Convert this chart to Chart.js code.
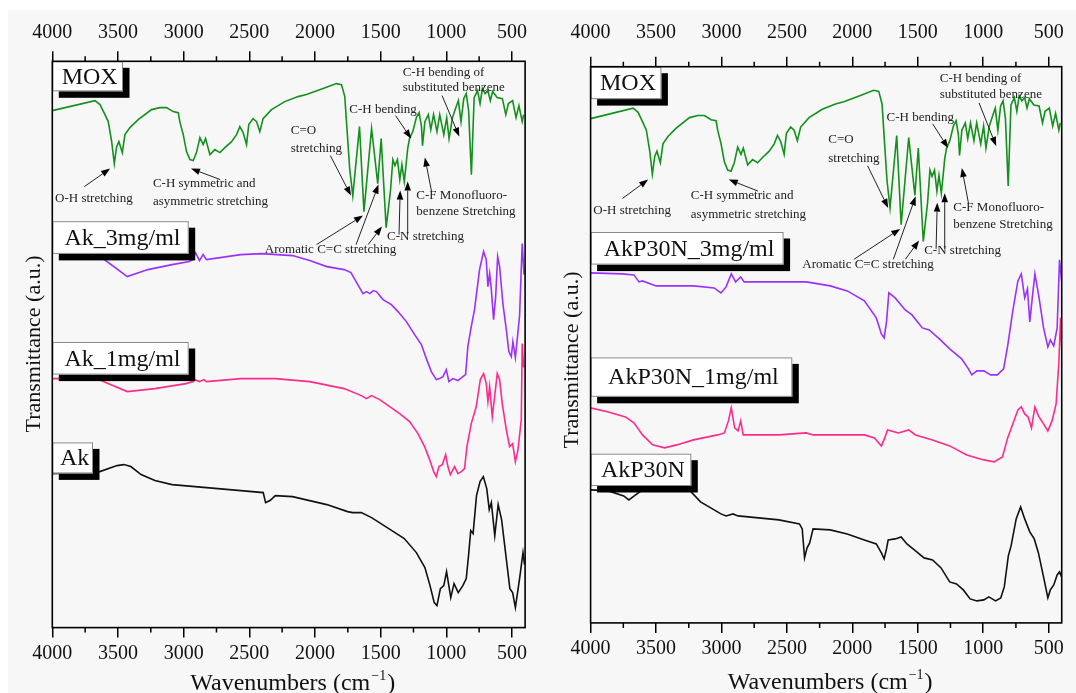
<!DOCTYPE html>
<html><head><meta charset="utf-8">
<script src="https://cdn.jsdelivr.net/npm/chart.js@4.4.1/dist/chart.umd.min.js"></script>
<style>
html,body{margin:0;padding:0;background:#fff;}
#wrap{position:relative;width:1076px;height:693px;overflow:hidden;}
#bg{position:absolute;left:8px;top:10px;right:0;bottom:0;background:#f7f7f7;}
#c1{position:absolute;left:0;top:0;}
#c2{position:absolute;left:540px;top:0;}
</style></head><body>
<div id="wrap"><div id="bg"></div><canvas id="c1" width="540" height="693"></canvas><canvas id="c2" width="536" height="693"></canvas></div>
<script>
// ---------- DATA (wavenumber cm-1, transmittance a.u. with vertical stacking offsets) ----------
const tickLabels = [4000, 3500, 3000, 2500, 2000, 1500, 1000, 500];
const leftLabels = ['MOX', 'Ak_3mg/ml', 'Ak_1mg/ml', 'Ak'];
const rightLabels = ['MOX', 'AkP30N_3mg/ml', 'AkP30N_1mg/ml', 'AkP30N'];

const moxSpectrum = [[4000,517],[3675,527],[3637,523],[3599,513],[3574,506],[3548,486],[3528,464],[3510,481],[3493,486],[3467,475],[3447,493],[3409,500],[3346,508],[3244,518],[3181,520],[3130,520],[3080,516],[3041,515],[3029,506],[3003,493],[2978,476],[2952,468],[2927,467],[2902,475],[2876,490],[2851,483],[2833,489],[2800,473],[2762,478],[2724,475],[2686,480],[2635,486],[2597,493],[2572,501],[2547,495],[2521,483],[2504,503],[2471,509],[2445,506],[2420,496],[2395,509],[2331,518],[2230,526],[2129,531],[2065,533],[1938,539],[1837,544],[1798,543],[1773,531],[1756,498],[1735,458],[1712,432],[1661,501],[1627,416],[1569,499],[1522,444],[1496,489],[1458,400],[1425,437],[1407,468],[1391,462],[1372,468],[1354,448],[1338,463],[1320,446],[1307,462],[1294,479],[1280,489],[1255,496],[1228,510],[1207,515],[1189,501],[1181,482],[1163,506],[1137,513],[1118,498],[1097,513],[1071,496],[1050,513],[1019,493],[997,510],[979,489],[953,510],[927,520],[908,527],[888,506],[867,529],[848,534],[830,517],[809,453],[788,530],[762,537],[743,524],[725,539],[705,534],[683,537],[665,527],[647,536],[613,530],[573,529],[547,513],[527,524],[495,527],[469,510],[447,522],[422,506],[411,513]];

const ak3Spectrum = [[4000,376],[3665,374],[3429,351],[3272,358],[3088,363],[2957,366],[2931,368],[2910,375],[2879,367],[2852,373],[2826,368],[2565,373],[2407,374],[2171,372],[2040,367],[1910,361],[1778,358],[1726,355],[1674,343],[1634,334],[1608,336],[1582,334],[1556,337],[1532,336],[1482,328],[1418,323],[1368,316],[1304,306],[1241,293],[1190,283],[1152,269],[1114,256],[1076,248],[1051,249],[1026,251],[1000,258],[980,246],[950,249],[912,247],[874,251],[853,253],[836,281],[810,301],[785,318],[747,358],[716,376],[696,368],[683,341],[670,354],[657,338],[640,308],[624,331],[609,371],[594,361],[569,324],[543,298],[524,276],[505,271],[493,286],[474,270],[442,312],[422,384],[408,353]];

const ak1Spectrum = [[4000,249],[3665,249],[3429,236],[3219,239],[2983,244],[2926,246],[2918,248],[2879,246],[2847,248],[2826,246],[2565,249],[2302,249],[2040,246],[1778,239],[1647,232],[1608,229],[1570,232],[1507,228],[1431,221],[1355,214],[1279,206],[1216,194],[1165,181],[1127,168],[1096,156],[1076,151],[1056,161],[1030,163],[1005,173],[988,161],[969,153],[937,161],[912,154],[886,156],[861,159],[843,181],[810,204],[772,221],[741,248],[716,254],[696,244],[683,226],[670,241],[650,211],[632,231],[612,254],[594,248],[574,224],[543,198],[518,181],[495,184],[474,166],[455,177],[429,208],[422,284],[411,260]];

const akSpectrum = [[4000,154],[3638,156],[3507,162],[3455,163],[3402,161],[3324,153],[3219,147],[3088,143],[2826,140],[2565,137],[2394,135],[2376,125],[2342,127],[2302,132],[2171,131],[1910,123],[1752,116],[1713,115],[1647,115],[1569,110],[1438,99],[1320,89],[1228,75],[1163,60],[1124,42],[1092,25],[1071,22],[1045,39],[1019,42],[998,56],[966,30],[941,44],[909,35],[874,42],[848,49],[830,73],[814,97],[796,94],[770,132],[743,146],[718,151],[692,139],[673,118],[657,125],[631,92],[605,123],[579,108],[547,73],[516,39],[495,35],[474,20],[442,49],[416,75],[404,63]];

const akp3Spectrum = [[4000,350],[3760,349],[3669,348],[3630,341],[3603,342],[3500,337],[3213,337],[3056,335],[3004,330],[2965,336],[2925,349],[2892,341],[2853,346],[2827,341],[2561,341],[2352,341],[2169,337],[2039,332],[1908,322],[1817,305],[1778,289],[1757,285],[1739,301],[1721,330],[1673,325],[1596,313],[1544,308],[1465,295],[1413,293],[1335,284],[1256,274],[1165,264],[1113,254],[1087,248],[1048,252],[995,252],[943,248],[892,248],[844,254],[813,277],[774,312],[735,342],[709,349],[683,325],[662,334],[644,301],[625,325],[605,349],[573,325],[539,295],[506,276],[487,283],[461,277],[435,295],[417,363],[401,342]];

const akp1Spectrum = [[4000,215],[3864,211],[3734,206],[3669,200],[3603,188],[3526,178],[3434,175],[3342,178],[3213,183],[3030,188],[2978,190],[2947,202],[2925,215],[2899,195],[2873,192],[2853,202],[2834,188],[2561,188],[2352,190],[2300,188],[2039,188],[1908,188],[1831,185],[1778,177],[1752,185],[1731,193],[1647,190],[1570,193],[1517,188],[1387,183],[1256,177],[1126,168],[995,163],[917,161],[853,166],[813,185],[774,199],[735,213],[709,216],[683,209],[657,206],[631,195],[605,216],[578,207],[539,199],[506,192],[474,202],[443,219],[422,260],[409,305],[401,277]];

const akpSpectrum = [[4000,133],[3864,132],[3747,127],[3708,123],[3656,128],[3603,133],[3239,132],[3160,121],[3082,115],[3004,109],[2965,107],[2912,109],[2873,107],[2561,103],[2404,99],[2383,94],[2365,65],[2346,75],[2326,80],[2300,94],[2169,93],[2039,89],[1908,83],[1817,79],[1778,70],[1757,64],[1739,74],[1726,83],[1673,84],[1627,86],[1583,79],[1517,72],[1452,65],[1387,63],[1322,55],[1256,41],[1204,39],[1152,33],[1100,24],[1048,22],[995,23],[957,26],[905,22],[866,25],[839,36],[808,67],[787,77],[748,104],[714,116],[683,104],[644,91],[610,84],[578,70],[539,46],[506,25],[487,33],[461,38],[435,48],[417,51],[401,46]];

// annotation texts: [text, wavenumber of left edge, a.u. level]
const annotationTexts = [
  ['O-H stretching', 3979, 429],
  ['C-H symmetric and', 3234, 444],
  ['asymmetric stretching', 3234, 426],
  ['C=O', 2184, 497],
  ['stretching', 2184, 479],
  ['C-H bending', 1739, 518],
  ['C-H bending of', 1332, 555],
  ['substituted benzene', 1332, 540],
  ['C-F Monofluoro-', 1228, 432],
  ['benzene Stretching', 1228, 416],
  ['C-N stretching', 1451, 391],
  ['Aromatic C=C stretching', 2382, 378]
];
// arrows: [from wn, from a.u., to wn, to a.u.]
const annotationArrows = [
  [3756,441,3560,459],
  [2721,448,2944,459],
  [1883,472,1726,432],
  [1988,383,1634,412],
  [1687,383,1516,443],
  [1595,383,1490,401],
  [1360,393,1351,437],
  [1294,393,1294,446],
  [1386,512,1268,489],
  [1112,436,1163,470],
  [1032,532,901,491]
];

// ---------- RENDERING ----------
const SERIF = '"Liberation Serif", "Times New Roman", serif';
const COLORS = { mox:'#14901c', c3:'#9b30ff', c1:'#ff2a8c', c0:'#111111' };

function drawArrow(ctx, x1, y1, x2, y2) {
  const ang = Math.atan2(y2 - y1, x2 - x1), L = 9, W = 3.3;
  const bx = x2 - L * Math.cos(ang), by = y2 - L * Math.sin(ang);
  ctx.beginPath(); ctx.moveTo(x1, y1); ctx.lineTo(bx, by);
  ctx.strokeStyle = '#222'; ctx.lineWidth = 1; ctx.stroke();
  ctx.beginPath(); ctx.moveTo(x2, y2);
  ctx.lineTo(bx - W * Math.sin(ang), by + W * Math.cos(ang));
  ctx.lineTo(bx + W * Math.sin(ang), by - W * Math.cos(ang));
  ctx.closePath(); ctx.fillStyle = '#000'; ctx.fill();
}

const decor = {
  id: 'decor',
  afterDatasetsDraw(chart, args, o) {
    const ctx = chart.ctx, xs = chart.scales.x, ys = chart.scales.y, a = chart.chartArea;
    const X = w => xs.getPixelForValue(w), Y = v => ys.getPixelForValue(v);
    const tf = v => v * o.moxScale + o.moxShift;
    ctx.save();
    ctx.font = '13px ' + SERIF; ctx.fillStyle = '#222'; ctx.textBaseline = 'middle'; ctx.textAlign = 'left';
    annotationTexts.forEach(([t, w, v]) => ctx.fillText(t, X(w), Y(tf(v))));
    annotationArrows.forEach(([w1, v1, w2, v2]) => drawArrow(ctx, X(w1), Y(tf(v1)), X(w2), Y(tf(v2))));
    o.boxes.forEach((b, i) => {
      const x = a.left, y = Y(b.top);
      ctx.fillStyle = '#000'; ctx.fillRect(x + 6.5, y + 6.5, b.w, b.h);
      ctx.fillStyle = '#fff'; ctx.fillRect(x, y, b.w, b.h);
      ctx.strokeStyle = '#8a8a8a'; ctx.lineWidth = 1; ctx.strokeRect(x + 0.5, y + 0.5, b.w - 1, b.h - 1);
      ctx.fillStyle = '#111'; ctx.font = '24px ' + SERIF; ctx.textAlign = 'center'; ctx.textBaseline = 'middle';
      ctx.fillText(o.labels[i], x + b.w / 2 + 2, y + b.h / 2 + 1);
    });
    ctx.restore();
  },
  afterDraw(chart, args, o) {
    const ctx = chart.ctx, xs = chart.scales.x, a = chart.chartArea;
    ctx.save();
    ctx.strokeStyle = '#000'; ctx.lineWidth = 1.6;
    ctx.strokeRect(a.left, a.top, a.right - a.left, a.bottom - a.top);
    // minor ticks
    ctx.lineWidth = 1.5;
    for (let w = 3750; w >= 400; w -= 500) {
      const px = xs.getPixelForValue(w);
      ctx.beginPath(); ctx.moveTo(px, a.bottom); ctx.lineTo(px, a.bottom + 5);
      ctx.moveTo(px, a.top); ctx.lineTo(px, a.top - 5); ctx.stroke();
    }
    // y title
    ctx.fillStyle = '#111'; ctx.font = '22px ' + SERIF; ctx.textAlign = 'center'; ctx.textBaseline = 'middle';
    ctx.translate(a.left - 18, o.yTitleY); ctx.rotate(-Math.PI / 2);
    ctx.fillText('Transmittance (a.u.)', 0, 0);
    ctx.setTransform(1, 0, 0, 1, 0, 0);
    // x title with superscript
    const main = 'Wavenumbers (cm', sup = '\u22121', close = ')';
    ctx.font = '24px ' + SERIF; const w1 = ctx.measureText(main).width, w3 = ctx.measureText(close).width;
    ctx.font = '14px ' + SERIF; const w2 = ctx.measureText(sup).width;
    const total = w1 + w2 + w3 + 2;
    let x0 = (a.left + a.right) / 2 - total / 2 + 4;
    const yb = a.bottom + o.xTitleOffset;
    ctx.textAlign = 'left'; ctx.textBaseline = 'alphabetic';
    ctx.font = '24px ' + SERIF; ctx.fillText(main, x0, yb);
    ctx.font = '14px ' + SERIF; ctx.fillText(sup, x0 + w1 + 1, yb - 10);
    ctx.font = '24px ' + SERIF; ctx.fillText(close, x0 + w1 + w2 + 2, yb);
    ctx.restore();
  }
};

function xAxis(position, height, pad) {
  return {
    type: 'linear', position, reverse: true, min: 400, max: 4000,
    afterBuildTicks: s => { s.ticks = tickLabels.map(v => ({ value: v })); },
    afterFit: s => { s.height = height; },
    ticks: { color: '#111', font: { family: SERIF, size: 20 }, padding: pad, maxRotation: 0, autoSkip: false,
             callback: v => String(v) },
    grid: { display: true, drawOnChartArea: false, drawTicks: true, tickLength: 10, color: '#000', lineWidth: 1.5 },
    border: { display: false }
  };
}

function panel(id, datasets, cfg) {
  return new Chart(document.getElementById(id), {
    type: 'line',
    data: { datasets },
    options: {
      responsive: false, animation: false, devicePixelRatio: 1,
      parsing: true, normalized: true,
      layout: { padding: { left: cfg.padL, right: cfg.padR, top: 0, bottom: 0 } },
      elements: { point: { radius: 0 }, line: { tension: 0, borderWidth: 1.6 } },
      plugins: { legend: { display: false }, tooltip: { enabled: false }, decor: cfg.decor },
      scales: {
        x: xAxis('bottom', cfg.bottomH, cfg.padBottomTicks),
        x2: xAxis('top', cfg.topH, cfg.padTopTicks),
        y: { display: false, min: 0, max: cfg.ymax }
      }
    },
    plugins: [decor]
  });
}

const toXY = (arr, k = 1, b = 0) => arr.map(([w, t]) => ({ x: w, y: t * k + b }));
const ds = (label, arr, color, k, b) => ({ label, data: toXY(arr, k, b), borderColor: color, borderWidth: 1.6, fill: false });

panel('c1', [
  ds(leftLabels[0], moxSpectrum, COLORS.mox),
  ds(leftLabels[1], ak3Spectrum, COLORS.c3),
  ds(leftLabels[2], ak1Spectrum, COLORS.c1),
  ds(leftLabels[3], akSpectrum, COLORS.c0)
], {
  padL: 52.3, padR: 14.9, topH: 61.3, bottomH: 65.4, ymax: 566.3, padTopTicks: 7, padBottomTicks: 4,
  decor: { moxScale: 1, moxShift: 0, labels: leftLabels, yTitleY: 344, xTitleOffset: 62,
    boxes: [ { top: 566.3, w: 70.7, h: 30 }, { top: 406.4, w: 136.4, h: 32.7 }, { top: 285.6, w: 136.4, h: 32.6 }, { top: 185.2, w: 40.7, h: 31 } ] }
});

panel('c2', [
  ds(rightLabels[0], moxSpectrum, COLORS.mox, 1.05, -38.6),
  ds(rightLabels[1], akp3Spectrum, COLORS.c3),
  ds(rightLabels[2], akp1Spectrum, COLORS.c1),
  ds(rightLabels[3], akpSpectrum, COLORS.c0)
], {
  padL: 50.6, padR: 13, topH: 66.7, bottomH: 70.1, ymax: 556.2, padTopTicks: 12, padBottomTicks: 4,
  decor: { moxScale: 1.05, moxShift: -38.6, labels: rightLabels, yTitleY: 360, xTitleOffset: 66,
    boxes: [ { top: 556.2, w: 70.8, h: 32.4 }, { top: 390.9, w: 193, h: 32.6 }, { top: 265.5, w: 201.7, h: 39.4 }, { top: 169.2, w: 100.7, h: 32.3 } ] }
});
</script></body></html>
